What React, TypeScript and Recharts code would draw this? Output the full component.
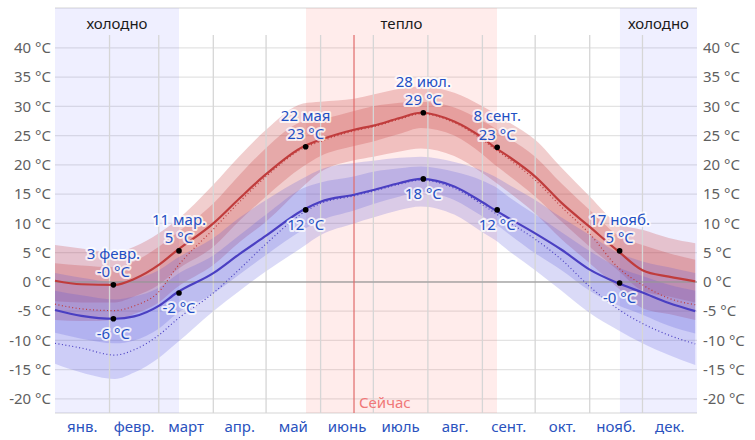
import React from 'react';
import {
  ComposedChart, Area, Line, XAxis, YAxis, CartesianGrid,
  ReferenceArea, ReferenceLine, ReferenceDot,
} from 'recharts';

// day of year (0 = 1 Jan)
const days = [0, 15, 34, 45, 59, 69, 90, 105, 120, 141, 151, 170, 181, 196, 208, 227, 243, 250, 258, 273, 288, 304, 320, 334, 349, 364];
const highAvg = [0.2, -0.4, -0.5, 0.5, 2.9, 5.3, 10.0, 14.3, 18.4, 23.1, 24.3, 26.0, 26.7, 28.0, 28.9, 27.4, 24.6, 23.0, 21.4, 18.0, 13.5, 9.4, 5.3, 2.0, 0.9, 0.1];
const highP90 = [6.3, 5.7, 5.0, 6.0, 8.3, 10.5, 16.6, 21.5, 26.0, 30.5, 30.8, 31.3, 32.0, 33.0, 33.4, 32.3, 30.0, 28.8, 27.3, 24.3, 19.5, 14.6, 10.0, 8.9, 7.5, 6.6];
const highP75 = [3.2, 2.8, 2.5, 3.5, 6.0, 8.3, 13.4, 18.3, 22.9, 27.4, 27.8, 29.2, 30.0, 30.6, 30.8, 29.8, 27.5, 26.3, 24.6, 21.4, 16.8, 12.3, 8.0, 6.3, 4.9, 3.8];
const highP25 = [-3.3, -3.5, -3.5, -2.5, -0.5, 2.0, 6.0, 10.5, 14.6, 19.7, 21.5, 23.2, 24.0, 25.3, 26.3, 25.0, 21.8, 20.0, 18.2, 14.6, 10.3, 6.0, 2.0, -1.5, -2.5, -3.5];
const highP10 = [-6.5, -6.7, -6.5, -5.5, -3.5, -1.0, 2.9, 6.8, 10.3, 16.3, 18.8, 20.8, 21.4, 22.3, 22.8, 21.5, 18.6, 17.1, 15.3, 11.7, 7.3, 3.2, -1.0, -4.5, -5.5, -6.5];
const lowAvg = [-4.8, -5.8, -6.3, -5.9, -4.1, -1.9, 1.5, 4.8, 7.9, 12.3, 13.7, 14.9, 15.7, 16.9, 17.6, 16.3, 13.6, 12.3, 10.9, 8.3, 5.5, 2.1, -0.2, -1.8, -3.6, -5.0];
const lowP90 = [1.5, 0.7, 0.0, 0.5, 2.0, 4.0, 7.5, 11.0, 14.0, 17.7, 19.2, 20.3, 20.7, 21.2, 21.4, 20.5, 19.0, 18.0, 16.6, 14.0, 11.0, 8.0, 5.0, 3.5, 2.5, 1.5];
const lowP75 = [-1.5, -2.3, -3.0, -2.5, -1.0, 1.2, 4.5, 8.0, 11.5, 16.0, 17.0, 18.0, 18.8, 19.4, 19.7, 18.8, 17.3, 16.3, 14.5, 11.5, 8.5, 5.3, 2.5, 1.0, -0.5, -1.5];
const lowP25 = [-8.7, -9.7, -10.5, -10.0, -8.0, -5.5, -2.0, 1.3, 4.6, 8.9, 10.5, 12.2, 13.3, 14.6, 15.4, 14.0, 11.2, 10.0, 8.2, 4.9, 2.0, -1.5, -4.0, -5.6, -7.5, -8.8];
const lowP10 = [-14.0, -15.5, -16.6, -15.5, -13.0, -10.5, -5.0, -1.5, 1.8, 6.0, 8.0, 10.0, 11.0, 12.3, 12.9, 11.5, 8.5, 7.2, 5.3, 2.0, -1.5, -5.3, -8.2, -10.5, -12.5, -14.2];
const feelsHigh = [-3.8, -4.6, -4.9, -4.1, -1.7, 2.4, 9.0, 13.7, 18.0, 22.8, 24.0, 25.8, 26.5, 27.8, 28.7, 27.2, 24.3, 22.7, 21.0, 17.4, 12.8, 8.2, 2.5, -0.5, -2.8, -3.9];
const feelsLow = [-10.5, -11.3, -12.5, -11.6, -9.1, -6.5, -1.9, 2.2, 6.5, 11.8, 13.4, 14.7, 15.5, 16.7, 17.4, 16.0, 13.2, 11.8, 10.2, 7.3, 3.8, -0.8, -4.6, -7.1, -9.1, -10.6];

const monthNames = ['янв.', 'февр.', 'март', 'апр.', 'май', 'июнь', 'июль', 'авг.', 'сент.', 'окт.', 'нояб.', 'дек.'];
const monthMid = [15.5, 45, 74.5, 105, 135.5, 166, 196.5, 227.5, 258, 288.5, 319, 349.5];
const monthStarts = [31, 59, 90, 120, 151, 181, 212, 243, 273, 304, 334];
const yTicks = [-20, -15, -10, -5, 0, 5, 10, 15, 20, 25, 30, 35, 40];

const seasonCold1 = [0, 70.5];
const seasonWarm = [142.7, 251.3];
const seasonCold2 = [321.2, 365];
const nowDay = 170;

const markerDays = [33.2, 33.2, 70.5, 70.5, 142.5, 142.5, 209.4, 209.4, 251.4, 251.4, 321, 321];
const markerValues = [-0.5, -6.3, 5.3, -1.9, 23.1, 12.3, 28.9, 17.6, 23.0, 12.3, 5.3, -0.2];
const markerDates = ['3 февр.', '', '11 мар.', '', '22 мая', '', '28 июл.', '', '8 сент.', '', '17 нояб.', ''];
const markerTemps = ['-0 °C', '-6 °C', '5 °C', '-2 °C', '23 °C', '12 °C', '29 °C', '18 °C', '23 °C', '12 °C', '5 °C', '-0 °C'];

const Y_MIN = -22.4;
const Y_MAX = 46.8;
const GRID_TOP = 42.2;

const data = days.map((d, i) => ({
  day: d,
  high: highAvg[i],
  low: lowAvg[i],
  feelsHigh: feelsHigh[i],
  feelsLow: feelsLow[i],
  hOuter: [highP10[i], highP90[i]],
  hInner: [highP25[i], highP75[i]],
  lOuter: [lowP10[i], lowP90[i]],
  lInner: [lowP25[i], lowP75[i]],
}));

const FONT = '"Noto Sans", "DejaVu Sans", sans-serif';
const ANNOT = '#1f50c4';
const RED = '#c03c3c';
const BLUE = '#4a3fc2';

const halo = {
  stroke: 'white',
  strokeWidth: 4,
  strokeOpacity: 0.75,
  strokeLinejoin: 'round' as const,
  paintOrder: 'stroke' as const,
};

const makeMarkerShape = (i: number) => (props: any) => {
  const { cx, cy } = props;
  const above = markerDates[i] !== '';
  return (
    <g>
      <circle cx={cx} cy={cy} r={2.8} fill="#000" />
      {above && (
        <text x={cx} y={cy - 32} textAnchor="middle" dominantBaseline="central"
          fontSize={15} fontFamily={FONT} fill={ANNOT} {...halo}>
          {markerDates[i]}
        </text>
      )}
      <text x={cx} y={above ? cy - 13.5 : cy + 14} textAnchor="middle" dominantBaseline="central"
        fontSize={15} fontFamily={FONT} fill={ANNOT} {...halo}>
        {markerTemps[i]}
      </text>
    </g>
  );
};

export default function App() {
  return (
    <div style={{ position: 'absolute', left: 0, top: 0, width: 755, height: 440, background: '#fff' }}>
      <ComposedChart width={755} height={440} data={data}
        margin={{ top: 8, right: 0, bottom: 0, left: 0 }}>
        <XAxis dataKey="day" type="number" domain={[0, 365]} ticks={monthMid}
          tickFormatter={(v: number) => monthNames[monthMid.indexOf(v)]}
          axisLine={false} tickLine={false} height={27} interval={0}
          tick={{ fill: '#2a52be', fontSize: 15, fontFamily: FONT }} />
        <YAxis yAxisId="l" domain={[Y_MIN, Y_MAX]} ticks={yTicks} allowDataOverflow
          width={55} axisLine={false} tickLine={false} tickSize={2} tickMargin={2}
          tickFormatter={(v: number) => `${v} °C`}
          tick={{ fill: '#5f5f5f', fontSize: 15, fontFamily: FONT }} />
        <YAxis yAxisId="r" orientation="right" domain={[Y_MIN, Y_MAX]} ticks={yTicks} allowDataOverflow
          width={58} axisLine={false} tickLine={false} tickSize={3} tickMargin={3}
          tickFormatter={(v: number) => `${v} °C`}
          tick={{ fill: '#5f5f5f', fontSize: 15, fontFamily: FONT }} />

        <ReferenceArea yAxisId="l" x1={seasonCold1[0]} x2={seasonCold1[1]} y1={Y_MIN} y2={Y_MAX}
          fill="rgb(110,110,255)" fillOpacity={0.11} stroke="none"
          label={{ value: 'холодно', position: 'insideTop', offset: 10, fill: '#1a1a1a', fontSize: 15, fontFamily: FONT }} />
        <ReferenceArea yAxisId="l" x1={seasonWarm[0]} x2={seasonWarm[1]} y1={Y_MIN} y2={Y_MAX}
          fill="rgb(255,110,100)" fillOpacity={0.13} stroke="none"
          label={{ value: 'тепло', position: 'insideTop', offset: 10, fill: '#1a1a1a', fontSize: 15, fontFamily: FONT }} />
        <ReferenceArea yAxisId="l" x1={seasonCold2[0]} x2={seasonCold2[1]} y1={Y_MIN} y2={Y_MAX}
          fill="rgb(110,110,255)" fillOpacity={0.11} stroke="none"
          label={{ value: 'холодно', position: 'insideTop', offset: 10, fill: '#1a1a1a', fontSize: 15, fontFamily: FONT }} />

        <CartesianGrid yAxisId="l" vertical={false} stroke="#e3e3e3" strokeWidth={1.3} />
        {monthStarts.map((d) => (
          <ReferenceLine key={'m' + d} yAxisId="l"
            segment={[{ x: d, y: GRID_TOP }, { x: d, y: Y_MIN }]}
            stroke="#d6d6d6" strokeWidth={1.3} />
        ))}

        <Area yAxisId="l" type="monotone" dataKey="hOuter" stroke="none" fill="rgb(200,60,60)" fillOpacity={0.25} isAnimationActive={false} />
        <Area yAxisId="l" type="monotone" dataKey="hInner" stroke="none" fill="rgb(200,60,60)" fillOpacity={0.25} isAnimationActive={false} />
        <Area yAxisId="l" type="monotone" dataKey="lOuter" stroke="none" fill="rgb(80,80,215)" fillOpacity={0.21} isAnimationActive={false} />
        <Area yAxisId="l" type="monotone" dataKey="lInner" stroke="none" fill="rgb(80,80,215)" fillOpacity={0.21} isAnimationActive={false} />

        <ReferenceLine yAxisId="l" y={0} stroke="#9a9a9a" strokeOpacity={0.6} strokeWidth={2} />

        <ReferenceLine yAxisId="l" segment={[{ x: nowDay, y: GRID_TOP }, { x: nowDay, y: Y_MIN }]}
          stroke="#e06a6a" strokeWidth={1.2}
          label={{ value: 'Сейчас', position: 'insideBottomLeft', offset: 5, fill: '#f07878', fontSize: 15, fontFamily: FONT }} />

        <Line yAxisId="l" type="monotone" dataKey="feelsHigh" stroke={RED} strokeWidth={1.2} strokeDasharray="1 2.5" dot={false} isAnimationActive={false} />
        <Line yAxisId="l" type="monotone" dataKey="feelsLow" stroke={BLUE} strokeWidth={1.2} strokeDasharray="1 2.5" dot={false} isAnimationActive={false} />
        <Line yAxisId="l" type="monotone" dataKey="high" stroke={RED} strokeWidth={2.2} dot={false} isAnimationActive={false} />
        <Line yAxisId="l" type="monotone" dataKey="low" stroke={BLUE} strokeWidth={2.2} dot={false} isAnimationActive={false} />

        {markerDays.map((d, i) => (
          <ReferenceDot key={'d' + i} yAxisId="l" x={d} y={markerValues[i]} r={3}
            shape={makeMarkerShape(i)} />
        ))}
      </ComposedChart>
    </div>
  );
}
